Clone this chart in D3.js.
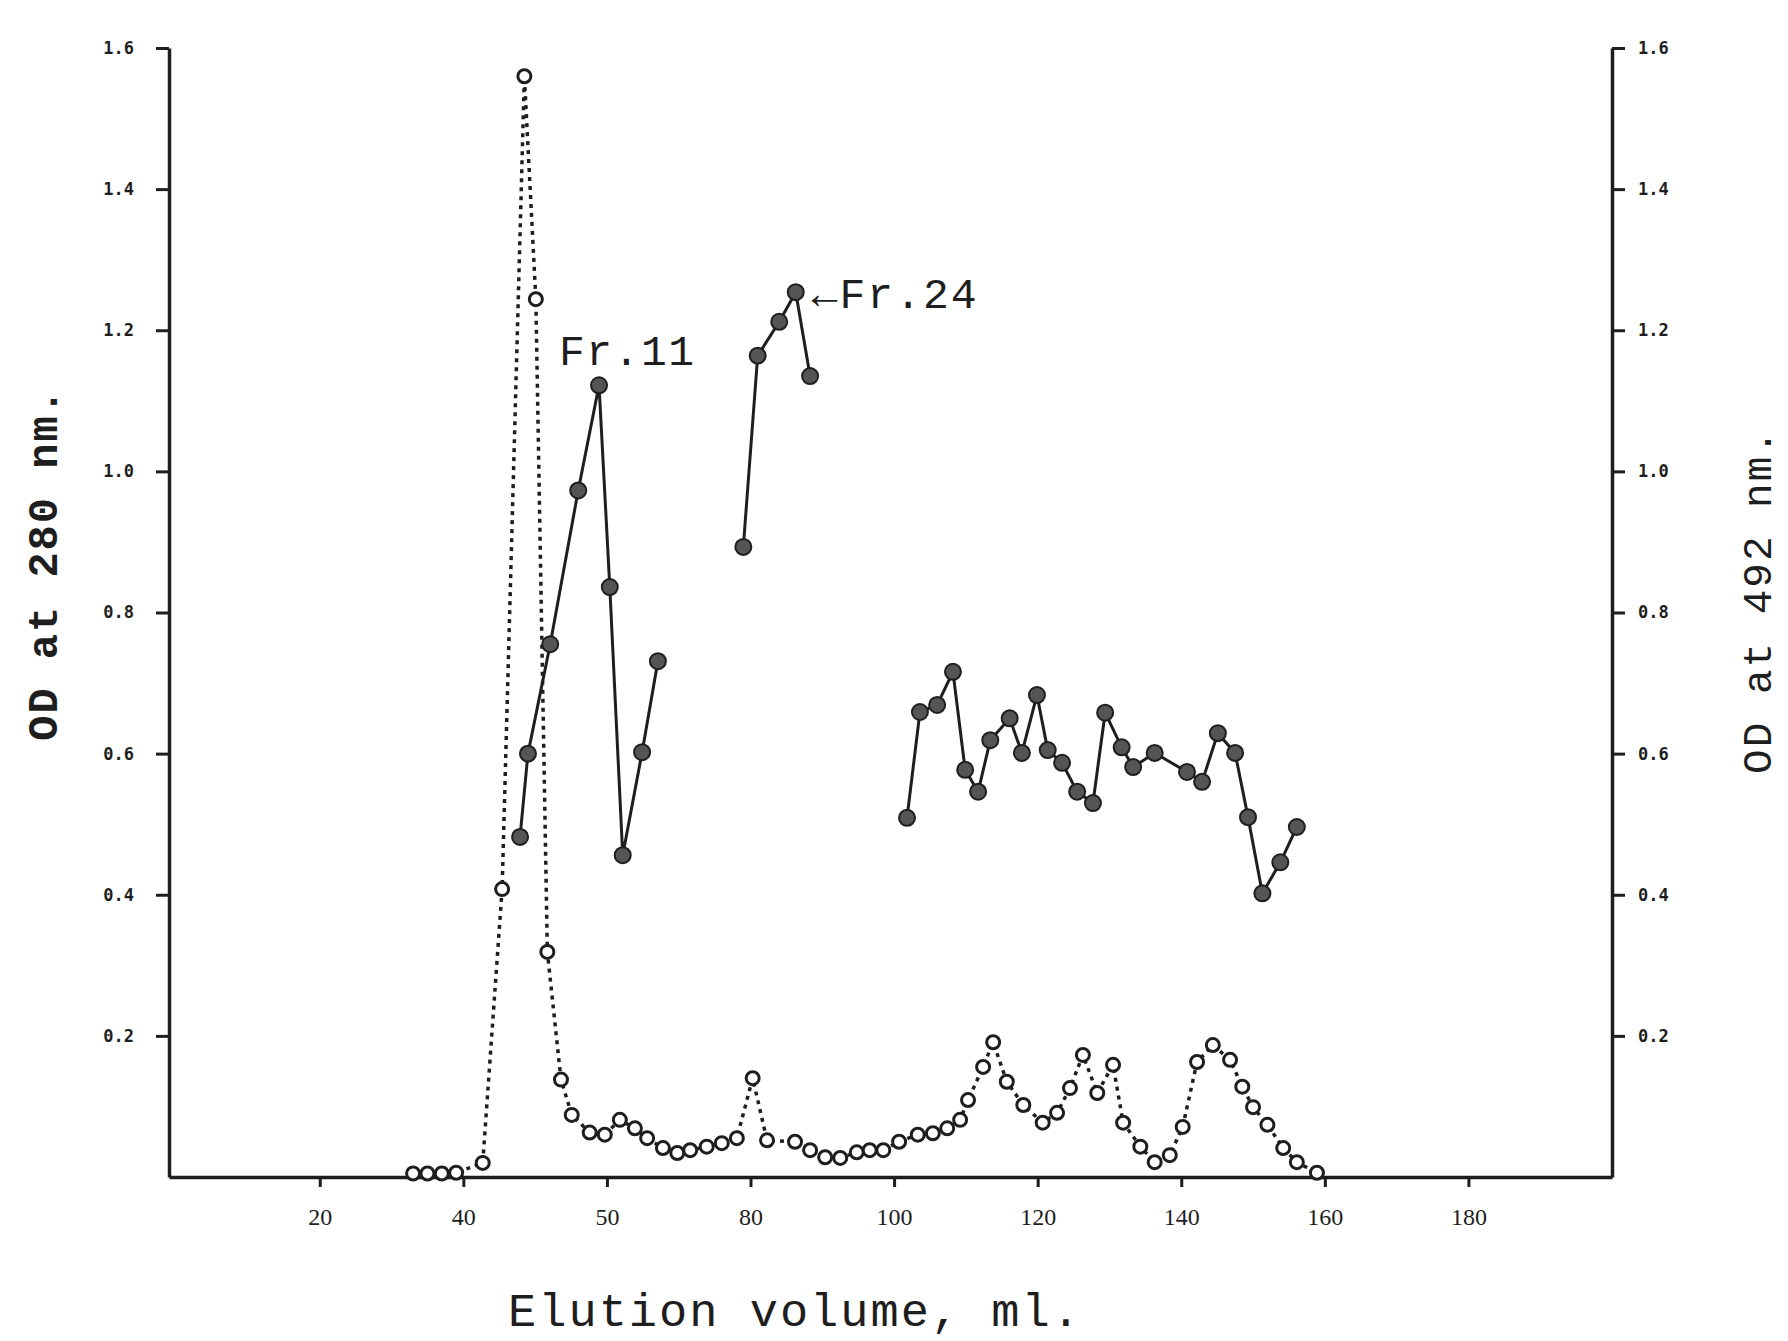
<!DOCTYPE html>
<head>
	<meta charset="UTF-8">
	<script src="https://d3js.org/d3.v7.min.js"></script>
	<title>Elution profile</title>
<style>
	body{
		margin: 0;
		background-color: white;
	}
	svg{
		display: block;
	}
</style>
</head>

<body>
	<svg width=1788 height=1341></svg>
</body>

<script>
	// OD at 280 nm (dotted line, open circles)
	var vol280 = [33, 35, 37, 39, 42.7, 45.4, 48.5, 50.1, 51.7, 53.6, 55.1, 57.6, 59.7, 61.8, 63.9, 65.6, 67.8, 69.8, 71.6, 73.9,
		76, 78.1, 80.3, 82.3, 86.2, 88.3, 90.4, 92.5, 94.8, 96.6, 98.5, 100.7, 103.3, 105.4, 107.4, 109.2, 110.3, 112.4, 113.8, 115.7,
		118, 120.7, 122.7, 124.5, 126.3, 128.3, 130.5, 131.9, 134.3, 136.3, 138.4, 140.2, 142.2, 144.4, 146.8, 148.5, 150, 152, 154.2, 156.1, 158.9];
	var od280 = [0.005, 0.005, 0.005, 0.006, 0.02, 0.408, 1.56, 1.244, 0.319, 0.138, 0.088, 0.063, 0.06, 0.081, 0.069, 0.055, 0.041, 0.034, 0.038, 0.043,
		0.048, 0.055, 0.14, 0.052, 0.05, 0.038, 0.028, 0.027, 0.035, 0.038, 0.038, 0.05, 0.06, 0.062, 0.069, 0.081, 0.109, 0.156, 0.191, 0.135,
		0.102, 0.077, 0.091, 0.126, 0.173, 0.119, 0.159, 0.077, 0.043, 0.021, 0.031, 0.071, 0.163, 0.187, 0.166, 0.128, 0.099, 0.074, 0.041, 0.021, 0.006];

	// OD at 492 nm (solid line, filled circles), null = break in the line
	var vol492 = [47.9, 49, 52.1, 56, 58.9, 60.4, 62.2, 64.9, 67.1, null,
		79, 81, 84, 86.3, 88.3, null,
		101.8, 103.6, 106, 108.2, 109.9, 111.7, 113.4, 116.1, 117.8, 119.9, 121.4, 123.4, 125.5, 127.7, 129.4, 131.7, 133.3,
		136.3, 140.8, 142.9, 145.1, 147.5, 149.3, 151.3, 153.8, 156.1];
	var od492 = [0.482, 0.6, 0.755, 0.973, 1.122, 0.836, 0.456, 0.602, 0.731, null,
		0.893, 1.164, 1.212, 1.254, 1.135, null,
		0.509, 0.659, 0.669, 0.716, 0.577, 0.546, 0.619, 0.65, 0.601, 0.683, 0.605, 0.587, 0.546, 0.53, 0.658, 0.609, 0.581,
		0.601, 0.574, 0.56, 0.629, 0.601, 0.51, 0.402, 0.446, 0.496];

	// Axis ticks
	var xTicks = [20, 40, 60, 80, 100, 120, 140, 160, 180];
	var xTickLabels = ["20", "40", "50", "80", "100", "120", "140", "160", "180"];
	var yTicks = [0.2, 0.4, 0.6, 0.8, 1.0, 1.2, 1.4, 1.6];
	var yTickLabels = ["0.2", "0.4", "0.6", "0.8", "1.0", "1.2", "1.4", "1.6"];

	var ink = "rgb(30,30,30)";

	var svg = d3.select("svg");

	var x = d3.scaleLinear()
				.domain([-1, 200])
				.range([169, 1612]);
	var y = d3.scaleLinear()
				.domain([0, 1.6])
				.range([1177, 48]);

	// Left axis (280 nm)
	svg.append("g")
		.attr("transform", "translate(" + x(-1) + ",0)")
		.call(d3.axisLeft(y).tickValues(yTicks).tickSize(13).tickSizeOuter(0).tickPadding(22)
			.tickFormat(function(d, i) {return yTickLabels[i]}));

	// Right axis (492 nm)
	svg.append("g")
		.attr("transform", "translate(" + x(200) + ",0)")
		.call(d3.axisRight(y).tickValues(yTicks).tickSize(13).tickSizeOuter(0).tickPadding(13)
			.tickFormat(function(d, i) {return yTickLabels[i]}));

	// Bottom axis
	svg.append("g")
		.attr("class", "xaxis")
		.attr("transform", "translate(0," + y(0) + ")")
		.call(d3.axisBottom(x).tickValues(xTicks).tickSize(10).tickSizeOuter(0).tickPadding(21)
			.tickFormat(function(d, i) {return xTickLabels[i]}));

	svg.selectAll(".domain")
		.attr("stroke", ink)
		.attr("stroke-width", 3.5);
	svg.selectAll(".tick line")
		.attr("stroke", ink)
		.attr("stroke-width", 3);
	svg.selectAll(".tick text")
		.attr("fill", ink)
		.attr("font-family", "DejaVu Sans Mono")
		.attr("font-weight", "bold")
		.attr("font-size", 17);
	svg.selectAll(".xaxis .tick text")
		.attr("font-family", "Liberation Serif")
		.attr("font-weight", "normal")
		.attr("font-size", 24);

	// Dotted 280 nm line
	var line280 = d3.line()
					.x(function(d, i) {return x(vol280[i])})
					.y(function(d) {return y(d)});
	svg.append("path")
		.datum(od280)
		.attr("d", line280)
		.attr("fill", "none")
		.attr("stroke", ink)
		.attr("stroke-width", 3.5)
		.attr("stroke-dasharray", "4,5");

	svg.append("g")
		.selectAll("circle")
		.data(od280).enter()
		.append("circle")
		.attr("cx", function(d, i) {return x(vol280[i])})
		.attr("cy", function(d) {return y(d)})
		.attr("r", 6.5)
		.attr("fill", "white")
		.attr("stroke", ink)
		.attr("stroke-width", 3);

	// Solid 492 nm line, broken where there are no readings
	var line492 = d3.line()
					.defined(function(d) {return d !== null})
					.x(function(d, i) {return x(vol492[i])})
					.y(function(d) {return y(d)});
	svg.append("path")
		.datum(od492)
		.attr("d", line492)
		.attr("fill", "none")
		.attr("stroke", ink)
		.attr("stroke-width", 3);

	svg.append("g")
		.selectAll("circle")
		.data(od492.map(function(d, i) {return {v: vol492[i], od: d}}).filter(function(d) {return d.od !== null})).enter()
		.append("circle")
		.attr("cx", function(d) {return x(d.v)})
		.attr("cy", function(d) {return y(d.od)})
		.attr("r", 8)
		.attr("fill", "rgb(85,85,85)")
		.attr("stroke", ink)
		.attr("stroke-width", 2);

	// Fraction annotations
	svg.append("text")
		.text("Fr.11")
		.attr("x", x(58.9) - 40)
		.attr("y", y(1.122) - 20)
		.attr("fill", ink)
		.attr("font-family", "Liberation Mono")
		.attr("font-size", 43)
		.attr("letter-spacing", 1.5);
	svg.append("text")
		.text("\u2190Fr.24")
		.attr("x", x(86.3) + 16)
		.attr("y", y(1.254) + 16)
		.attr("fill", ink)
		.attr("font-family", "Liberation Mono")
		.attr("font-size", 43)
		.attr("letter-spacing", 2);

	// Axis titles
	svg.append("text")
		.text("OD at 280 nm.")
		.attr("transform", "translate(46,564) rotate(-90)")
		.attr("text-anchor", "middle")
		.attr("dominant-baseline", "central")
		.attr("fill", ink)
		.attr("font-family", "Liberation Mono")
		.attr("font-weight", "bold")
		.attr("font-size", 42)
		.attr("letter-spacing", 2);
	svg.append("text")
		.text("OD at 492 nm.")
		.attr("transform", "translate(1760,601) rotate(-90)")
		.attr("text-anchor", "middle")
		.attr("dominant-baseline", "central")
		.attr("fill", ink)
		.attr("font-family", "Liberation Mono")
		.attr("font-size", 41)
		.attr("letter-spacing", 2);
	svg.append("text")
		.text("Elution volume, ml.")
		.attr("x", 795)
		.attr("y", 1326)
		.attr("text-anchor", "middle")
		.attr("fill", ink)
		.attr("font-family", "Liberation Mono")
		.attr("font-size", 47)
		.attr("letter-spacing", 2);
</script>
